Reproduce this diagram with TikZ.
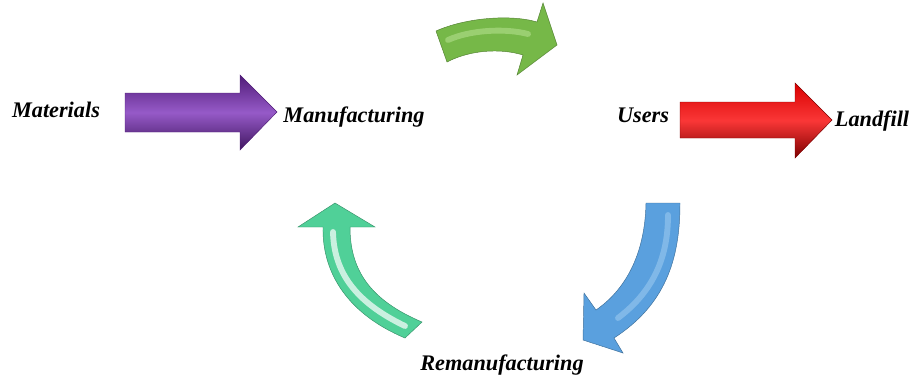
\documentclass[tikz,border=0pt]{standalone}
\usepackage{fontspec}
\setmainfont{Liberation Serif}
\usetikzlibrary{positioning}
\usepackage{xcolor}

\definecolor{purpledark}{RGB}{80,28,120}
\definecolor{purplelight}{RGB}{150,90,200}
\definecolor{reddark}{RGB}{125,0,0}
\definecolor{redlight}{RGB}{250,55,55}
\definecolor{greenfill}{RGB}{118,184,72}
\definecolor{greenlight}{RGB}{200,235,165}
\definecolor{bluefill}{RGB}{90,160,222}
\definecolor{bluelight}{RGB}{175,215,245}
\definecolor{tealfill}{RGB}{80,208,152}

\begin{document}
\begin{tikzpicture}[x=0.3mm, y=-0.3mm, every node/.style={font=\fontsize{19}{21}\selectfont\bfseries\itshape},
	stage/.style={anchor=base, inner sep=0pt},
	glow/.style={line width=5pt, line cap=round, opacity=0.45}]

	\useasboundingbox (0,0) rectangle (914,382);

	% stages
	\node[stage] (mat) at (56,117) {Materials};
	\node[stage] (mfg) at (354,122) {Manufacturing};
	\node[stage] (usr) at (643,122) {Users};
	\node[stage] (lf) at (872,126) {Landfill};
	\node[stage] (reman) at (502,370) {Remanufacturing};

	% straight arrows
	\shade[top color=purpledark, bottom color=purpledark!80!black, middle color=purplelight, draw=purpledark, line width=0.4pt]
		(125,93) -- (240,93) -- (240,75) -- (277,112) -- (240,150) -- (240,132) -- (125,132) -- cycle;
	\shade[top color=red!85!black, bottom color=reddark, middle color=redlight, draw=reddark, line width=0.4pt]
		(680,102) -- (795,102) -- (795,83) -- (832,120) -- (795,158) -- (795,138) -- (680,138) -- cycle;

	% curved arrows
	\filldraw[fill=greenfill, draw=greenfill!70!black, line width=0.4pt]
		(436,31) .. controls (465,18) and (510,14) .. (537,22) -- (543,3) -- (557,45) -- (517,75) -- (523,55)
		.. controls (500,48) and (470,50) .. (447,62) -- cycle;
	\draw[glow, greenlight] (448,40) .. controls (470,30) and (505,28) .. (528,34);

	\filldraw[fill=bluefill, draw=bluefill!70!black, line width=0.4pt]
		(646,203) -- (680,203) .. controls (680,260) and (665,305) .. (614,338) -- (623,353) -- (583,340)
		-- (584,293) -- (596,310) .. controls (625,290) and (645,255) .. (646,203) -- cycle;
	\draw[glow, bluelight] (668,215) .. controls (668,255) and (655,290) .. (618,318);

	\filldraw[fill=tealfill, draw=tealfill!70!black, line width=0.4pt]
		(323,227) -- (298,227) -- (335,203) -- (375,227) -- (350,227) .. controls (350,270) and (370,300) .. (422,322)
		-- (405,338) .. controls (350,315) and (322,275) .. (323,227) -- cycle;
	\draw[glow, white, opacity=0.7] (333,232) .. controls (334,272) and (355,302) .. (405,326);
\end{tikzpicture}
\end{document}
